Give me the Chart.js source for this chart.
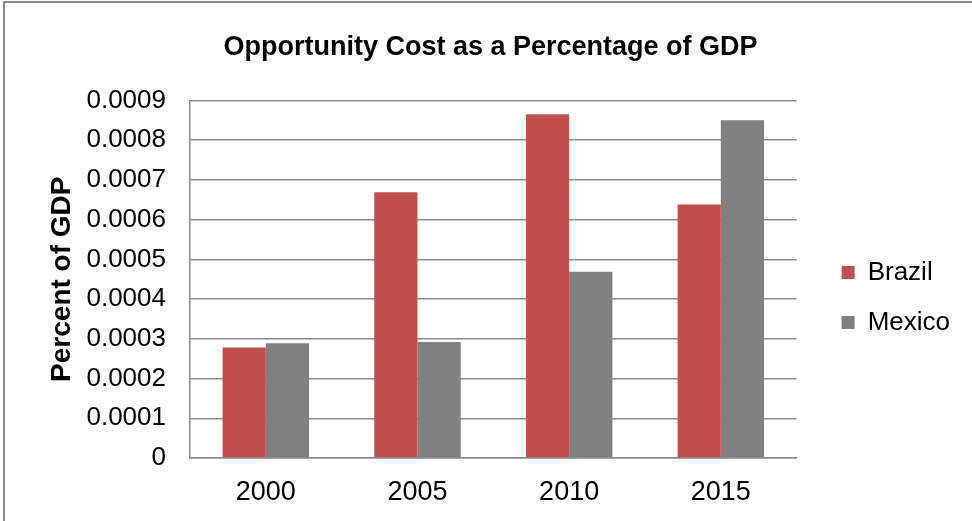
<!DOCTYPE html>
<html>
<head>
<meta charset="utf-8">
<script src="https://cdn.jsdelivr.net/npm/chart.js@4/dist/chart.umd.min.js"></script>
<style>
    html, body { margin: 0; padding: 0; background: #fff; }
    #frame { position: absolute; left: 3px; top: 1px; width: 975px; height: 530px; border-top: 2px solid #8a8a8a; border-left: 2px solid #8a8a8a; }
    #chart { position: absolute; left: 0; top: 0; }
</style>
</head>
<body>
<div id="frame"></div>
<canvas id="chart" width="972" height="521"></canvas>
<script>
const years = ['2000', '2005', '2010', '2015'];
const brazil = [0.000278, 0.000669, 0.000865, 0.000638];
const mexico = [0.000289, 0.000292, 0.000469, 0.00085];
const yTickLabels = ['0', '0.0001', '0.0002', '0.0003', '0.0004', '0.0005', '0.0006', '0.0007', '0.0008', '0.0009'];

const gridColor = '#8a8a8a';
const font = 'Liberation Sans, Arial, sans-serif';

new Chart(document.getElementById('chart'), {
    type: 'bar',
    data: {
        labels: years,
        datasets: [
            { label: 'Brazil', data: brazil, backgroundColor: '#c0504d' },
            { label: 'Mexico', data: mexico, backgroundColor: '#808080' }
        ]
    },
    options: {
        responsive: false,
        animation: false,
        layout: { padding: { left: 21, right: 12, top: 0, bottom: 0 } },
        datasets: { bar: { categoryPercentage: 0.57, barPercentage: 1 } },
        plugins: {
            tooltip: { enabled: false },
            title: {
                display: true,
                text: 'Opportunity Cost as a Percentage of GDP',
                color: '#000',
                font: { family: font, size: 27, weight: 'bold', lineHeight: 1.2 },
                padding: { top: 31, bottom: 37 }
            },
            legend: {
                position: 'right',
                // empty title only pushes the entries down
                title: { display: true, text: ' ', font: { size: 10, lineHeight: 1 }, padding: 32 },
                labels: {
                    color: '#000',
                    font: { family: font, size: 26 },
                    boxWidth: 13,
                    boxHeight: 13,
                    padding: 24
                }
            }
        },
        scales: {
            x: {
                grid: { display: false, drawTicks: false },
                border: { color: gridColor, width: 1.5 },
                ticks: { color: '#000', font: { family: font, size: 27 }, padding: 18 },
                afterFit(scale) { scale.height = 63; }
            },
            y: {
                min: 0,
                max: 0.0009,
                ticks: {
                    stepSize: 0.0001,
                    color: '#000',
                    font: { family: font, size: 26 },
                    padding: 24,
                    callback: (v) => yTickLabels[Math.round(v / 0.0001)]
                },
                grid: { color: gridColor, lineWidth: 1.5, drawTicks: false },
                border: { color: gridColor, width: 1.5 },
                title: {
                    display: true,
                    text: 'Percent of GDP',
                    color: '#000',
                    font: { family: font, size: 28, weight: 'bold', lineHeight: 1.2 },
                    padding: { top: 24, bottom: 0 }
                },
                afterFit(scale) { scale.width = 169; }
            },
            gap: {
                type: 'linear',
                position: 'right',
                display: true,
                grid: { display: false, drawTicks: false },
                border: { display: false },
                ticks: { display: false },
                afterFit(scale) { scale.width = 21; }
            }
        }
    }
});
</script>
</body>
</html>
